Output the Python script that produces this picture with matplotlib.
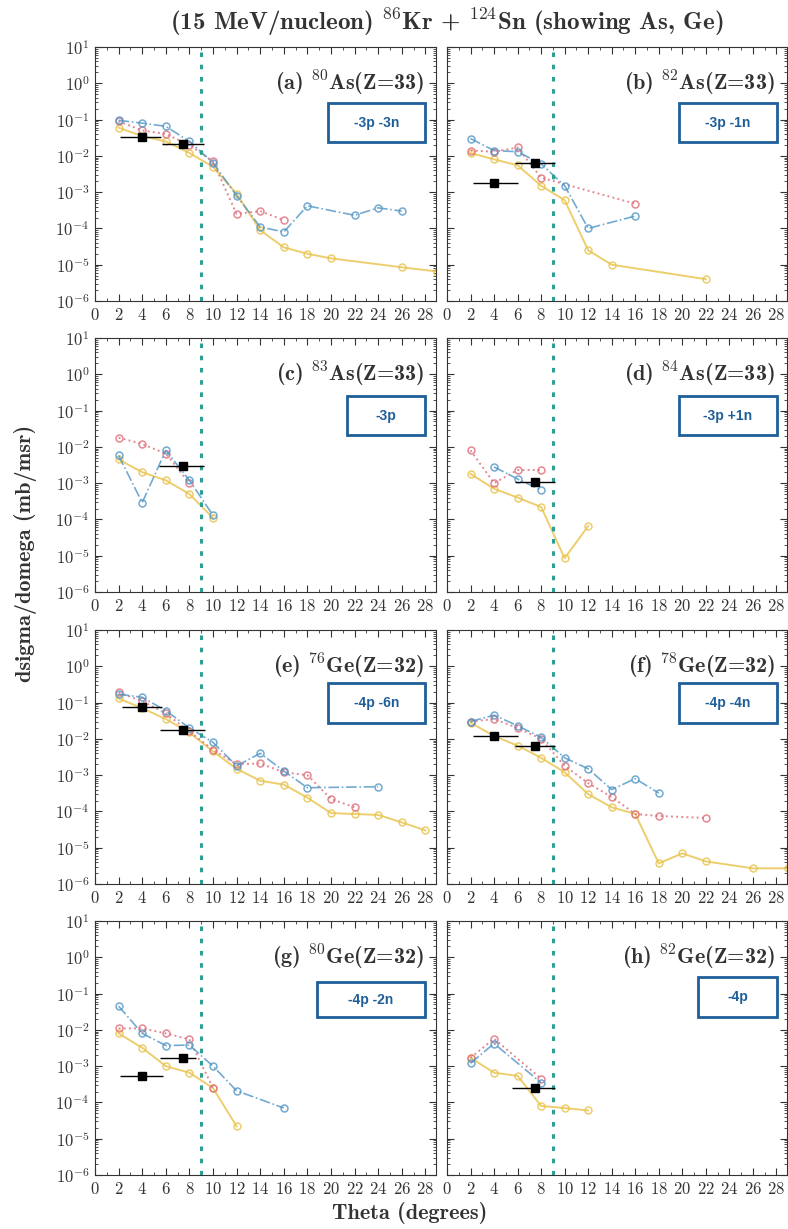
# 86Kr + 124Sn deneyinde As ve Ge izotoplarinin acisal dagilimlarini ciziyoruz
# her panelde uc model serisi (mavi, kirmizi, sari) ve siyah deney noktalari var

import matplotlib.pyplot as plt
from matplotlib.patches import Rectangle
from matplotlib.ticker import MultipleLocator, LogLocator, NullFormatter

# ---- veriler (gorselden okunan degerler) ----
# (a) 80As
a_mavi_x = [2, 4, 6, 8, 10, 12, 14, 16, 18, 22, 24, 26]
a_mavi_y = [0.095, 0.08, 0.065, 0.025, 0.0065, 8e-4, 1.1e-4, 8e-5, 4.2e-4, 2.3e-4, 3.7e-4, 3e-4]
a_kirmizi_x = [2, 4, 6, 8, 10, 12, 14, 16]
a_kirmizi_y = [0.09, 0.05, 0.04, 0.02, 0.007, 2.5e-4, 3e-4, 1.7e-4]
a_sari_x = [2, 4, 6, 8, 10, 12, 14, 16, 18, 20, 26, 29]
a_sari_y = [0.06, 0.035, 0.025, 0.012, 0.005, 9e-4, 9e-5, 3e-5, 2e-5, 1.5e-5, 8.5e-6, 6.5e-6]
a_deney_x = [4, 7.5]
a_deney_y = [0.033, 0.021]
a_deney_xmin = [2.1, 5.7]
a_deney_xmax = [5.6, 9.2]

# (b) 82As
b_mavi_x = [2, 4, 6, 8, 10, 12, 16]
b_mavi_y = [0.03, 0.014, 0.013, 0.006, 1.5e-3, 1e-4, 2.2e-4]
b_kirmizi_x = [2, 4, 6, 8, 16]
b_kirmizi_y = [0.014, 0.013, 0.017, 2.5e-3, 4.8e-4]
b_sari_x = [2, 4, 6, 8, 10, 12, 14, 22]
b_sari_y = [0.012, 0.008, 0.0055, 1.5e-3, 6e-4, 2.5e-5, 1e-5, 4e-6]
b_deney_x = [4, 7.5]
b_deney_y = [1.8e-3, 6.5e-3]
b_deney_xmin = [2.2, 5.8]
b_deney_xmax = [6.0, 9.2]

# (c) 83As
c_mavi_x = [2, 4, 6, 8, 10]
c_mavi_y = [0.0058, 2.9e-4, 0.008, 1.2e-3, 1.3e-4]
c_kirmizi_x = [2, 4, 6, 8]
c_kirmizi_y = [0.018, 0.012, 0.0065, 1e-3]
c_sari_x = [2, 4, 6, 8, 10]
c_sari_y = [4.5e-3, 2e-3, 1.2e-3, 5e-4, 1.1e-4]
c_deney_x = [7.5]
c_deney_y = [3e-3]
c_deney_xmin = [5.4]
c_deney_xmax = [9.2]

# (d) 84As
d_mavi_x = [4, 6, 8]
d_mavi_y = [2.8e-3, 1.3e-3, 6.5e-4]
d_kirmizi_x = [2, 4, 6, 8]
d_kirmizi_y = [8e-3, 1e-3, 2.3e-3, 2.3e-3]
d_sari_x = [2, 4, 6, 8, 10, 12]
d_sari_y = [1.8e-3, 7e-4, 4e-4, 2.2e-4, 8.5e-6, 6.6e-5]
d_deney_x = [7.5]
d_deney_y = [1.1e-3]
d_deney_xmin = [5.8]
d_deney_xmax = [9.2]

# (e) 76Ge
e_mavi_x = [2, 4, 6, 8, 10, 12, 14, 16, 18, 24]
e_mavi_y = [0.17, 0.14, 0.06, 0.02, 8e-3, 1.8e-3, 4e-3, 1.3e-3, 4.5e-4, 4.8e-4]
e_kirmizi_x = [2, 4, 6, 8, 10, 12, 14, 16, 18, 20, 22]
e_kirmizi_y = [0.19, 0.11, 0.05, 0.016, 0.005, 2e-3, 2.1e-3, 1.2e-3, 1e-3, 2.2e-4, 1.3e-4]
e_sari_x = [2, 4, 6, 8, 10, 12, 14, 16, 18, 20, 22, 24, 26, 28]
e_sari_y = [0.13, 0.07, 0.035, 0.015, 0.0045, 1.5e-3, 7e-4, 5.5e-4, 2.4e-4, 9e-5, 8.5e-5, 8e-5, 5e-5, 3e-5]
e_deney_x = [4, 7.5]
e_deney_y = [0.075, 0.017]
e_deney_xmin = [2.3, 5.5]
e_deney_xmax = [5.7, 9.3]

# (f) 78Ge
f_mavi_x = [2, 4, 6, 8, 10, 12, 14, 16, 18]
f_mavi_y = [0.03, 0.045, 0.023, 0.011, 3e-3, 1.5e-3, 4e-4, 8e-4, 3.2e-4]
f_kirmizi_x = [2, 4, 6, 8, 10, 12, 14, 16, 18, 22]
f_kirmizi_y = [0.03, 0.035, 0.02, 0.01, 1.8e-3, 6e-4, 2.5e-4, 8.5e-5, 7.5e-5, 6.6e-5]
f_sari_x = [2, 4, 6, 8, 10, 12, 14, 16, 18, 20, 22, 26, 29]
f_sari_y = [0.028, 0.012, 6.5e-3, 3e-3, 1.2e-3, 3e-4, 1.3e-4, 8.5e-5, 3.7e-6, 7e-6, 4.2e-6, 2.7e-6, 2.7e-6]
f_deney_x = [4, 7.5]
f_deney_y = [0.012, 6.5e-3]
f_deney_xmin = [2.2, 5.8]
f_deney_xmax = [6.0, 9.2]

# (g) 80Ge
g_mavi_x = [2, 4, 6, 8, 10, 12, 16]
g_mavi_y = [0.045, 8e-3, 3.7e-3, 3.8e-3, 1e-3, 2.1e-4, 7e-5]
g_kirmizi_x = [2, 4, 6, 8, 10]
g_kirmizi_y = [0.011, 0.011, 8e-3, 5.5e-3, 2.5e-4]
g_sari_x = [2, 4, 6, 8, 10, 12]
g_sari_y = [8e-3, 3.2e-3, 1e-3, 6.6e-4, 2.5e-4, 2.2e-5]
g_deney_x = [4, 7.5]
g_deney_y = [5.4e-4, 1.7e-3]
g_deney_xmin = [2.1, 5.5]
g_deney_xmax = [5.8, 8.6]

# (h) 82Ge
h_mavi_x = [2, 4, 8]
h_mavi_y = [1.2e-3, 4.2e-3, 3.5e-4]
h_kirmizi_x = [2, 4, 8]
h_kirmizi_y = [1.7e-3, 5.7e-3, 4.5e-4]
h_sari_x = [2, 4, 6, 8, 10, 12]
h_sari_y = [1.7e-3, 6.6e-4, 5.4e-4, 8e-5, 7e-5, 6e-5]
h_deney_x = [7.5]
h_deney_y = [2.5e-4]
h_deney_xmin = [5.5]
h_deney_xmax = [9.2]

# panel basliklari ve kutu yazilari
paneller = ["a", "b", "c", "d", "e", "f", "g", "h"]
kutle_no = ["80", "82", "83", "84", "76", "78", "80", "82"]
element = ["As", "As", "As", "As", "Ge", "Ge", "Ge", "Ge"]
z_no = [33, 33, 33, 33, 32, 32, 32, 32]
kutu_yazi = ["-3p -3n", "-3p -1n", "-3p", "-3p +1n", "-4p -6n", "-4p -4n", "-4p -2n", "-4p"]

# LaTeX benzeri gorunum icin Computer Modern fontlari
plt.rcParams["font.family"] = "cmr10"
plt.rcParams["mathtext.fontset"] = "cm"
plt.rcParams["axes.formatter.use_mathtext"] = True
plt.rcParams["axes.unicode_minus"] = False

MAVI = "#4f95c6"
KIRMIZI = "#de6b78"
SARI = "#e9c24a"
CIZGI = "#2f9e93"
KUTU = "#1f5f99"
YAZI = "#333333"

fig = plt.figure(figsize=(7.88, 12.29), dpi=100)

# eksen konumlari (piksel olcumlerinden)
sol_x = [95 / 788, 447 / 788]
gen = [341 / 788, 340 / 788]
ust_px = [47, 338, 630, 921]
yuk_px = 254

# kutu konumlari eksen koordinatinda (x0, x1, y0, y1)
kutu_yer = [
    (0.683, 0.968, 0.625, 0.779),
    (0.682, 0.971, 0.625, 0.779),
    (0.739, 0.968, 0.617, 0.771),
    (0.682, 0.971, 0.617, 0.771),
    (0.683, 0.968, 0.632, 0.790),
    (0.682, 0.971, 0.632, 0.790),
    (0.651, 0.968, 0.621, 0.760),
    (0.738, 0.971, 0.621, 0.779),
]


def seri_al(p, ad):
    # panel harfi ve seri adindan x, y listelerini bul
    g = globals()
    return g[f"{p}_{ad}_x"], g[f"{p}_{ad}_y"]


for i, p in enumerate(paneller):
    satir, sutun = i // 2, i % 2
    alt = 1 - (ust_px[satir] + yuk_px) / 1229
    ax = fig.add_axes([sol_x[sutun], alt, gen[sutun], yuk_px / 1229])
    ax.set_yscale("log")
    ax.set_xlim(0, 28.9)
    ax.set_ylim(1e-6, 10)

    # model serileri
    mx, my = seri_al(p, "mavi")
    kx, ky = seri_al(p, "kirmizi")
    sx, sy = seri_al(p, "sari")
    ax.plot(sx, sy, color=SARI, ls="-", lw=1.4, marker="o", ms=5, mfc="none", mew=1.1, alpha=0.8)
    ax.plot(kx, ky, color=KIRMIZI, ls=":", lw=1.4, marker="o", ms=5, mfc="none", mew=1.1, alpha=0.8)
    ax.plot(mx, my, color=MAVI, ls="-.", lw=1.2, marker="o", ms=5, mfc="none", mew=1.1, alpha=0.8)

    # deney noktalari (yatay hata cubuklu)
    g = globals()
    dx = g[f"{p}_deney_x"]
    dy = g[f"{p}_deney_y"]
    xerr = [[x - lo for x, lo in zip(dx, g[f"{p}_deney_xmin"])],
            [hi - x for x, hi in zip(dx, g[f"{p}_deney_xmax"])]]
    ax.errorbar(dx, dy, xerr=xerr, fmt="s", color="black", ms=6, elinewidth=1, capsize=0, zorder=5)

    ax.axvline(9, color=CIZGI, ls=(0, (1.5, 2.5)), lw=2.2, zorder=4)

    # eksen ayarlari
    ax.xaxis.set_major_locator(MultipleLocator(2))
    ax.xaxis.set_minor_locator(MultipleLocator(1))
    ax.yaxis.set_major_locator(LogLocator(base=10, numticks=10))
    ax.yaxis.set_minor_locator(LogLocator(base=10, subs=range(2, 10), numticks=20))
    ax.yaxis.set_minor_formatter(NullFormatter())
    ax.tick_params(which="both", direction="in", top=True, right=True, colors=YAZI)
    ax.tick_params(which="major", length=5, labelsize=12, pad=4)
    ax.tick_params(which="minor", length=2.5)
    if sutun == 1:
        ax.set_yticklabels([])
    for s in ax.spines.values():
        s.set_color(YAZI)

    # panel basligi
    ax.text(0.965, 0.855, rf"({p}) $^{{\mathbf{{{kutle_no[i]}}}}}$" + f"{element[i]}(Z={z_no[i]})",
            transform=ax.transAxes, ha="right", va="center", fontsize=16,
            family="cmb10", color=YAZI)

    # mavi cerceveli kutu
    x0, x1, y0, y1 = kutu_yer[i]
    ax.add_patch(Rectangle((x0, y0), x1 - x0, y1 - y0, transform=ax.transAxes,
                           facecolor="white", edgecolor=KUTU, lw=2, zorder=6))
    ax.text((x0 + x1) / 2, (y0 + y1) / 2, kutu_yazi[i], transform=ax.transAxes,
            ha="center", va="center", fontsize=10, fontweight="bold",
            family="Liberation Sans", color=KUTU, zorder=7)

fig.text(447 / 788, 1 - 22 / 1229,
         r"(15 MeV/nucleon) $^{\mathbf{86}}$Kr + $^{\mathbf{124}}$Sn (showing As, Ge)",
         ha="center", va="center", fontsize=18, family="cmb10", color=YAZI)
fig.text(26 / 788, 1 - 553 / 1229, "dsigma/domega (mb/msr)", rotation=90,
         ha="center", va="center", fontsize=16, family="cmb10", color=YAZI)
fig.text(410 / 788, 1 - 1213 / 1229, "Theta (degrees)", ha="center", va="center",
         fontsize=16, family="cmb10", color=YAZI)

fig.savefig("out.png", dpi=100)
